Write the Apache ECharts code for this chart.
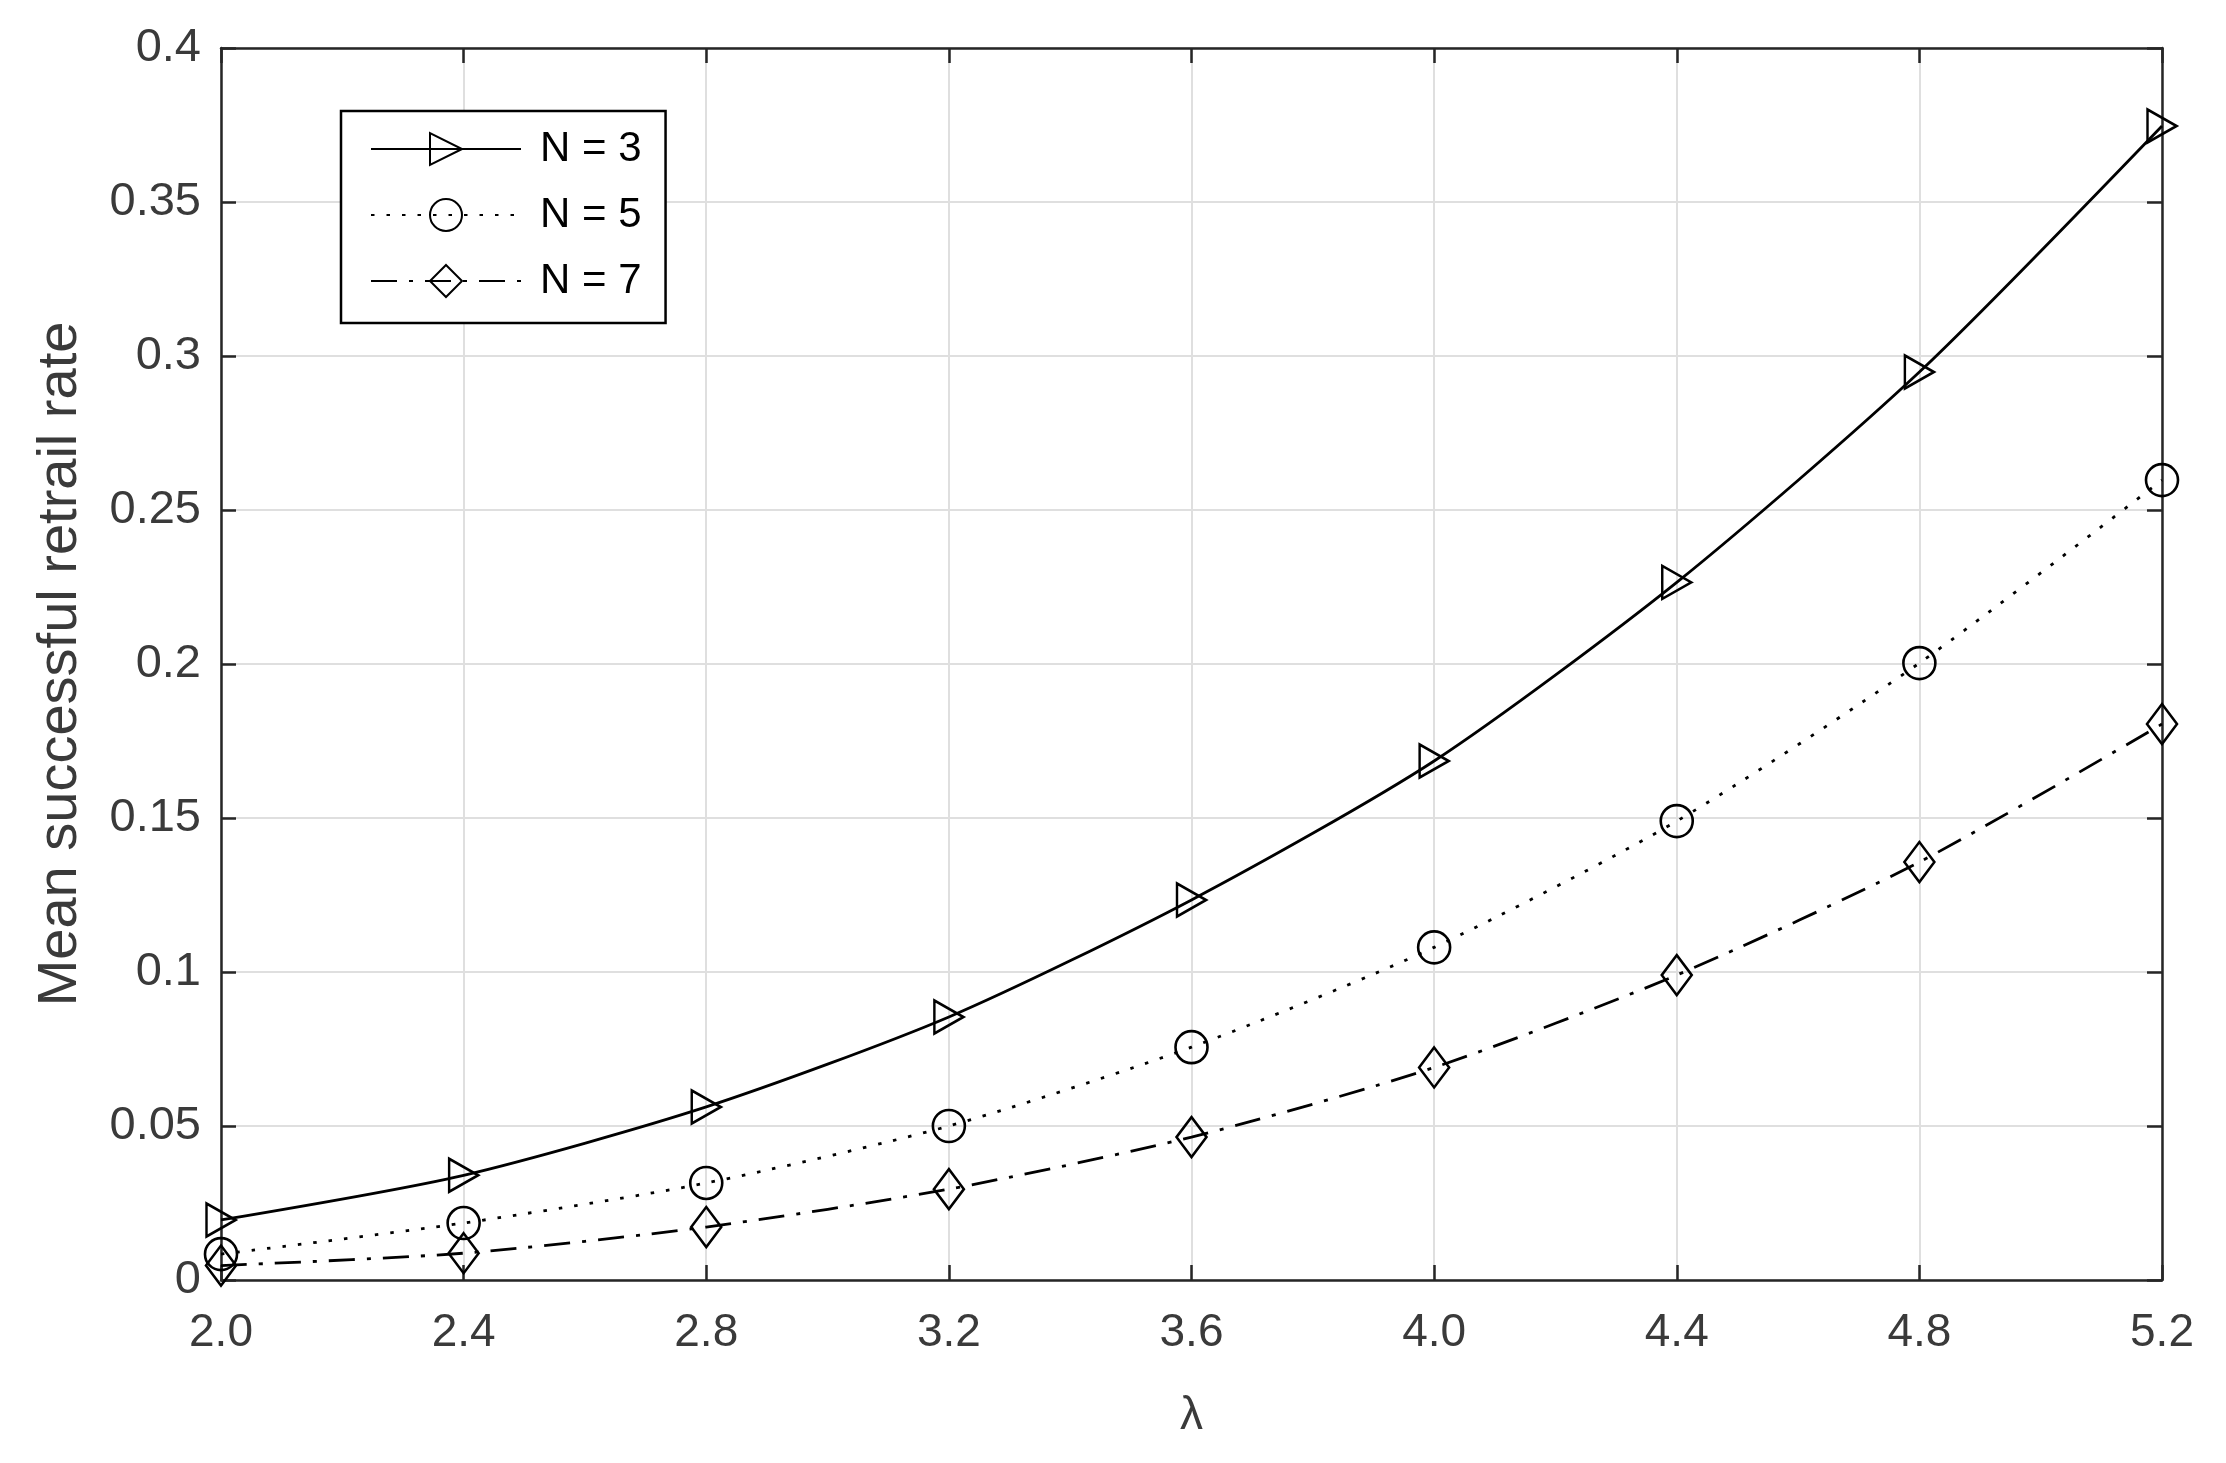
<!DOCTYPE html>
<html>
<head>
<meta charset="utf-8">
<script src="https://cdn.jsdelivr.net/npm/echarts@6/dist/echarts.min.js"></script>
<style>
html,body{margin:0;padding:0;background:#fff;}
#chart{width:2226px;height:1463px;}
</style>
</head>
<body>
<div id="chart"></div>
<script>
// ---- data ----
const lambda = [2.0, 2.4, 2.8, 3.2, 3.6, 4.0, 4.4, 4.8, 5.2];
const n3 = [0.0195, 0.034, 0.0562, 0.0854, 0.1234, 0.1685, 0.2265, 0.2948, 0.3747];
const n5 = [0.0084, 0.0185, 0.0315, 0.050, 0.0756, 0.108, 0.149, 0.2003, 0.2597];
const n7 = [0.0047, 0.0087, 0.0172, 0.0295, 0.0464, 0.069, 0.099, 0.1357, 0.1805];
const seriesNames = ['N = 3', 'N = 5', 'N = 7'];
const xTicks = { min: 2.0, max: 5.2, interval: 0.4 };
const yTicks = { min: 0, max: 0.4, interval: 0.05 };
const xTitle = 'λ';
const yTitle = 'Mean successful retrail rate';

const pairs = arr => lambda.map((x, i) => [x, arr[i]]);

const FONT = '"Liberation Sans", Arial, Helvetica, sans-serif';
const AX = '#262626';
const LBL = '#3a3a3a';
const axisLine = { show: true, onZero: false, lineStyle: { color: AX, width: 2.5 } };
const axisTick = { show: true, inside: true, length: 15, lineStyle: { color: AX, width: 2.5 } };

const chart = echarts.init(document.getElementById('chart'), null, { renderer: 'canvas' });

function mkSeries(name, arr, symbol, size, rotate, dash) {
  return {
    name: name,
    type: 'line',
    data: pairs(arr),
    xAxisIndex: 0,
    yAxisIndex: 0,
    smooth: 0.25,
    symbol: symbol,
    symbolSize: size,
    symbolRotate: rotate,
    showAllSymbol: true,
    clip: false,
    lineStyle: { color: '#000', width: 2.8, type: dash, cap: 'butt' },
    itemStyle: { color: 'rgba(0,0,0,0)', borderColor: '#000', borderWidth: 2.6 },
    emphasis: { disabled: true },
    animation: false,
    z: 3
  };
}

const option = {
  animation: false,
  backgroundColor: '#fff',
  grid: { left: 221, right: 64, top: 48, bottom: 183, containLabel: false, show: false },
  legend: {
    data: seriesNames,
    orient: 'vertical',
    left: 341,
    top: 111,
    padding: [17, 24, 21, 29],
    itemGap: 24,
    itemWidth: 150,
    itemHeight: 40,
    borderColor: '#000',
    borderWidth: 2.5,
    backgroundColor: '#fff',
    borderRadius: 0,
    selectedMode: false,
    textStyle: { fontFamily: FONT, fontSize: 42, color: '#000', padding: [0, 0, 0, 14] }
  },
  xAxis: [
    {
      type: 'value', position: 'bottom', gridIndex: 0,
      min: xTicks.min, max: xTicks.max, interval: xTicks.interval,
      axisLine: axisLine, axisTick: axisTick,
      axisLabel: { show: true, margin: 30, fontFamily: FONT, fontSize: 46, color: LBL,
        formatter: v => v.toFixed(1) },
      splitLine: { show: true, lineStyle: { color: '#dfdfdf', width: 2 } },
      name: xTitle, nameLocation: 'middle', nameGap: 113,
      nameTextStyle: { fontFamily: FONT, fontSize: 46, color: LBL }
    },
    {
      type: 'value', position: 'top', gridIndex: 0,
      min: xTicks.min, max: xTicks.max, interval: xTicks.interval,
      axisLine: axisLine, axisTick: axisTick,
      axisLabel: { show: false }, splitLine: { show: false }
    }
  ],
  yAxis: [
    {
      type: 'value', position: 'left', gridIndex: 0,
      min: yTicks.min, max: yTicks.max, interval: yTicks.interval,
      axisLine: axisLine, axisTick: axisTick,
      axisLabel: { show: true, margin: 20, fontFamily: FONT, fontSize: 47, color: LBL,
        formatter: v => String(+v.toFixed(2)) },
      splitLine: { show: true, lineStyle: { color: '#dfdfdf', width: 2 } },
      name: yTitle, nameLocation: 'middle', nameGap: 132,
      nameTextStyle: { fontFamily: FONT, fontSize: 56, color: LBL }
    },
    {
      type: 'value', position: 'right', gridIndex: 0,
      min: yTicks.min, max: yTicks.max, interval: yTicks.interval,
      axisLine: axisLine, axisTick: axisTick,
      axisLabel: { show: false }, splitLine: { show: false }
    }
  ],
  series: [
    mkSeries(seriesNames[0], n3, 'triangle', [33, 29], -90, 'solid'),
    mkSeries(seriesNames[1], n5, 'circle', 32, 0, [3.5, 12]),
    mkSeries(seriesNames[2], n7, 'diamond', [30, 40], 0, [26, 12, 4, 12])
  ]
};

chart.setOption(option);
</script>
</body>
</html>
